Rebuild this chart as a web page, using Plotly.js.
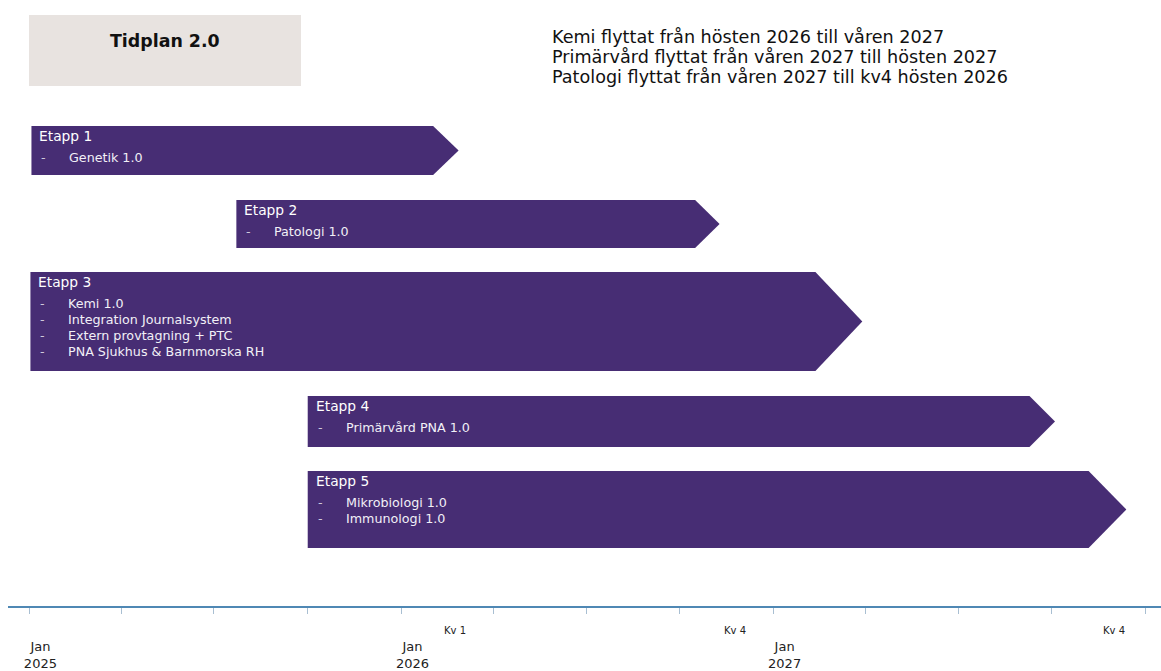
<!DOCTYPE html>
<html>
<head>
<meta charset="utf-8">
<script src="https://cdn.plot.ly/plotly-3.0.1.min.js"></script>
<style>html,body{margin:0;padding:0;background:#fff;}#chart{width:1161px;height:671px;}</style>
</head>
<body>
<div id="chart"></div>
<script>
// ---- data ----
const stages = ["Etapp 1", "Etapp 2", "Etapp 3", "Etapp 4", "Etapp 5"];
const startDates = ["2025-01-03", "2025-07-23", "2025-01-02", "2025-10-01", "2025-10-01"];
const endDates = ["2026-02-01", "2026-10-16", "2027-02-11", "2027-09-09", "2027-11-06"];
const tipDates = ["2026-02-26", "2026-11-09", "2027-03-29", "2027-10-04", "2027-12-13"];
const stageItems = [
  ["Genetik 1.0"],
  ["Patologi 1.0"],
  ["Kemi 1.0", "Integration Journalsystem", "Extern provtagning + PTC", "PNA Sjukhus & Barnmorska RH"],
  ["Primärvård PNA 1.0"],
  ["Mikrobiologi 1.0", "Immunologi 1.0"]
];
const chartTitle = "Tidplan 2.0";
const notes = [
  "Kemi flyttat från hösten 2026 till våren 2027",
  "Primärvård flyttat från våren 2027 till hösten 2027",
  "Patologi flyttat från våren 2027 till kv4 hösten 2026"
];
const tickDates = ["2025-01-01","2025-04-01","2025-07-01","2025-10-01","2026-01-01","2026-04-01","2026-07-01","2026-10-01","2027-01-01","2027-04-01","2027-07-01","2027-10-01","2028-01-01"];
const tickLabels = ["Jan<br>2025","","","","Jan<br>2026","","","","Jan<br>2027","","","",""];
const kvLabels = ["Kv 1", "Kv 4", "Kv 4"];
const kvDates = ["2026-02-22", "2026-11-24", "2027-12-01"];

// ---- layout (pixel rows on a reversed y axis) ----
const rowTop = [126, 200, 272, 396, 471];
const rowBottom = [175, 248, 371, 447, 548];
const purple = "#472d74";
const FONT = "DejaVu Sans, Verdana, sans-serif";

const traces = stages.map((s, i) => {
  const mid = (rowTop[i] + rowBottom[i]) / 2;
  return {
    type: "scatter", mode: "lines", fill: "toself",
    x: [startDates[i], endDates[i], tipDates[i], endDates[i], startDates[i], startDates[i]],
    y: [rowTop[i], rowTop[i], mid, rowBottom[i], rowBottom[i], rowTop[i]],
    fillcolor: purple, line: {width: 0, color: purple},
    hoverinfo: "skip", showlegend: false
  };
});

const annotations = [];
stages.forEach((s, i) => {
  annotations.push({
    x: startDates[i], y: rowTop[i] + 10, xref: "x", yref: "y",
    text: s, showarrow: false, xanchor: "left", yanchor: "middle", xshift: 6,
    font: {family: FONT, size: 13.8, color: "#ffffff"}
  });
  stageItems[i].forEach((it, j) => {
    const yy = rowTop[i] + 31.5 + j * 16;
    annotations.push({
      x: startDates[i], y: yy, xref: "x", yref: "y",
      text: "-", showarrow: false, xanchor: "left", yanchor: "middle", xshift: 8,
      font: {family: FONT, size: 12.7, color: "#cfc8dd"}
    });
    annotations.push({
      x: startDates[i], y: yy, xref: "x", yref: "y",
      text: it, showarrow: false, xanchor: "left", yanchor: "middle", xshift: 36,
      font: {family: FONT, size: 12.7, color: "#f2f0f7"}
    });
  });
});
annotations.push({
  x: (165 - 8) / 1153, y: 41, xref: "paper", yref: "y",
  text: "<b>" + chartTitle + "</b>", showarrow: false, xanchor: "center", yanchor: "middle",
  font: {family: FONT, size: 17.4, color: "#111111"}
});
notes.forEach((n, i) => {
  annotations.push({
    x: (550 - 8) / 1153, y: 37 + i * 20, xref: "paper", yref: "y",
    text: n, showarrow: false, xanchor: "left", yanchor: "middle",
    font: {family: FONT, size: 17.6, color: "#111111"}
  });
});
kvLabels.forEach((k, i) => {
  annotations.push({
    x: kvDates[i], y: (606 - 631) / 606, xref: "x", yref: "paper",
    text: k, showarrow: false, xanchor: "center", yanchor: "middle",
    font: {family: FONT, size: 10, color: "#222222"}
  });
});

const layout = {
  width: 1161, height: 671,
  margin: {l: 8, r: 0, t: 0, b: 65},
  paper_bgcolor: "#ffffff", plot_bgcolor: "#ffffff",
  showlegend: false,
  xaxis: {
    type: "date", range: ["2024-12-11", "2028-01-16"],
    tickmode: "array", tickvals: tickDates, ticktext: tickLabels,
    showgrid: false, zeroline: false,
    showline: true, linecolor: "#4f88b4", linewidth: 1.5,
    ticks: "outside", ticklen: 6, tickcolor: "#a9bfd2", tickwidth: 1,
    ticklabelshift: 11, ticklabelstandoff: 22,
    tickfont: {family: FONT, size: 13, color: "#222222"},
    fixedrange: true
  },
  yaxis: {range: [606, 0], visible: false, fixedrange: true},
  shapes: [{
    type: "rect", xref: "paper", yref: "y",
    x0: (29 - 8) / 1153, x1: (301 - 8) / 1153, y0: 15, y1: 86,
    fillcolor: "#e8e3e0", line: {width: 0}, layer: "below"
  }],
  annotations: annotations
};

Plotly.newPlot("chart", traces, layout, {displayModeBar: false, staticPlot: true});
</script>
</body>
</html>
